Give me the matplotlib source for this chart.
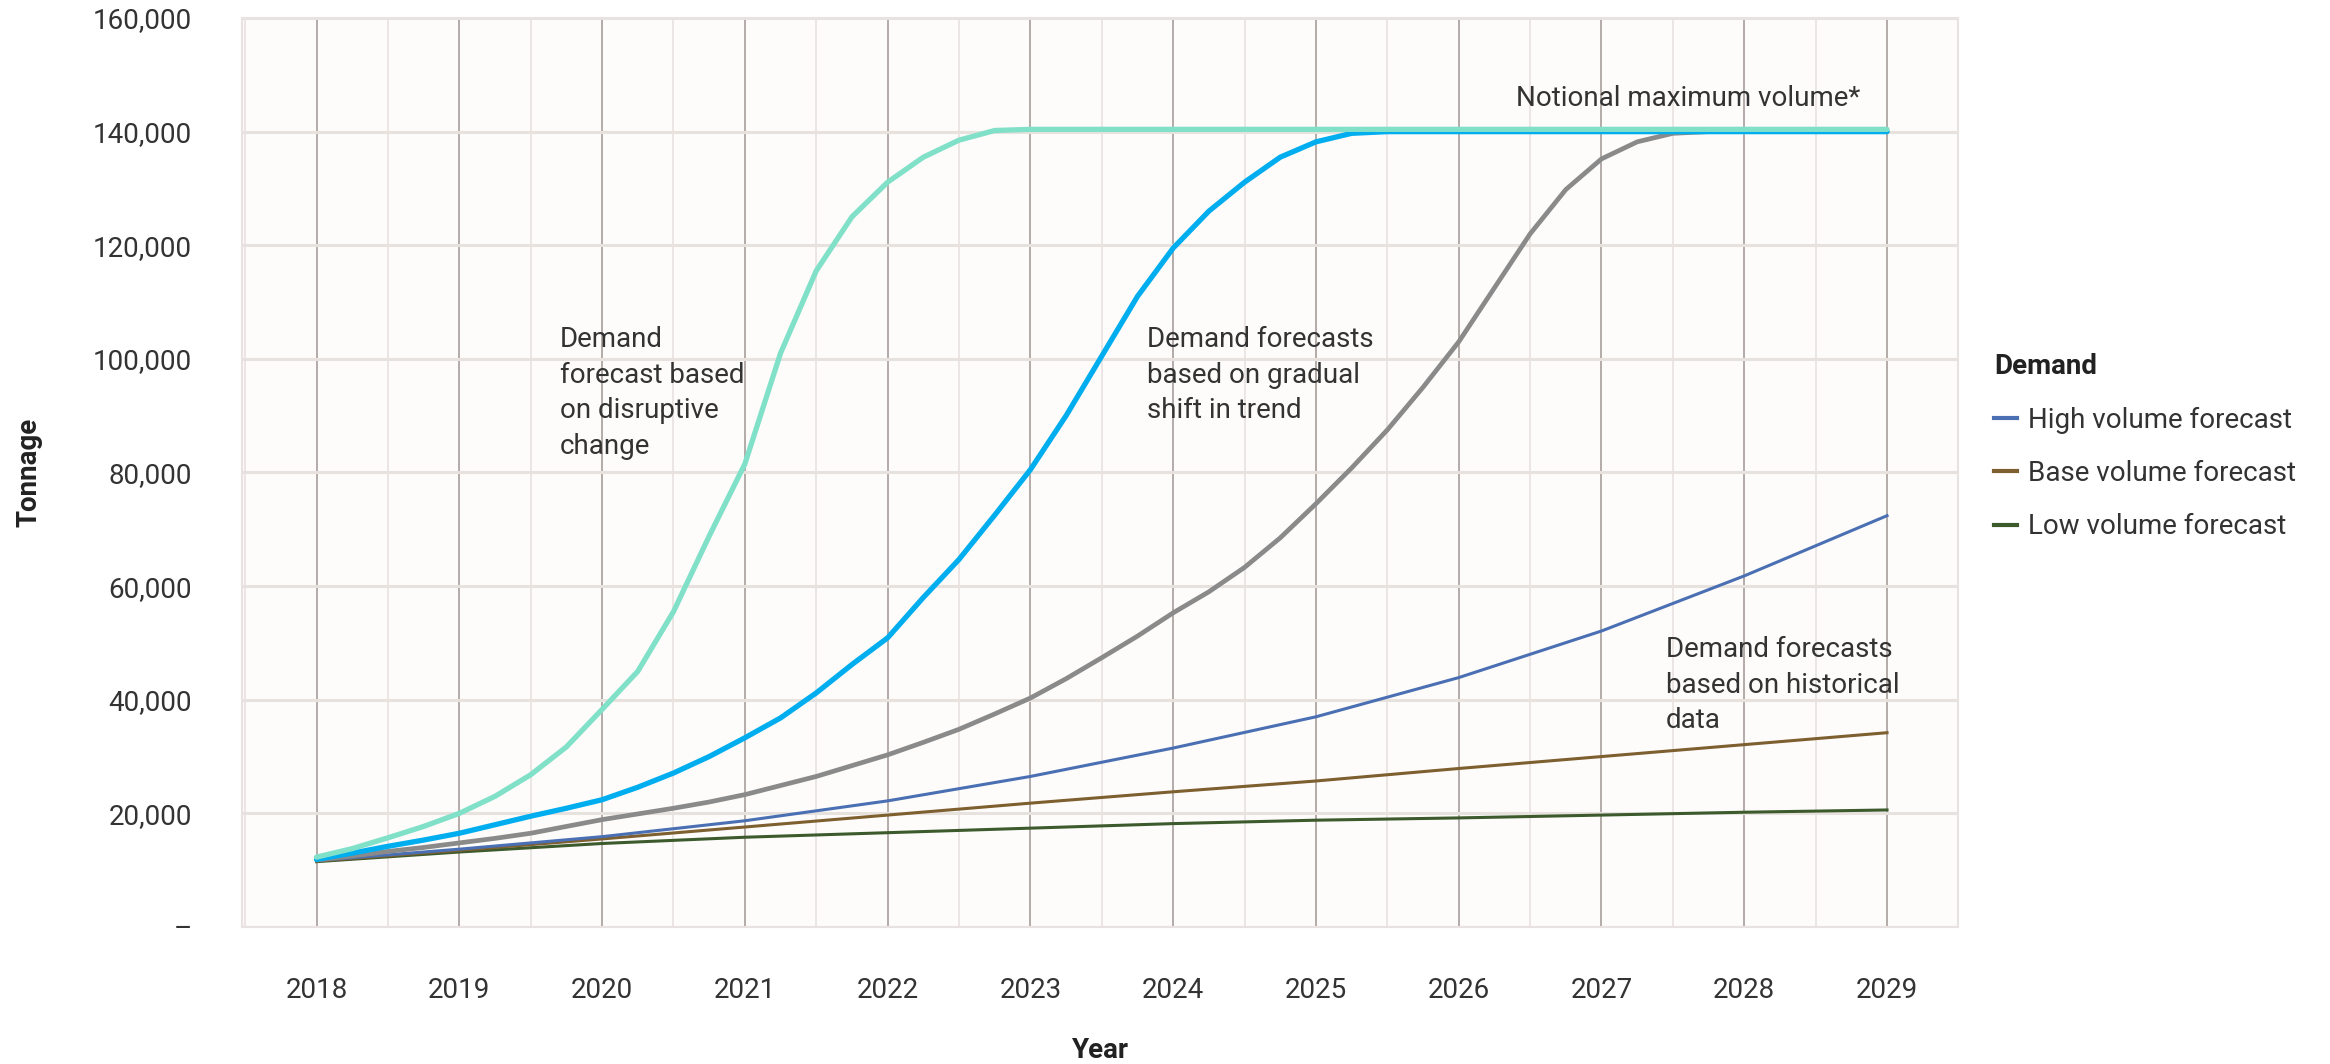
import numpy as np
import matplotlib
matplotlib.use("Agg")
import matplotlib.pyplot as plt
from matplotlib.ticker import FuncFormatter, MultipleLocator

plt.rcParams['font.family'] = ['Roboto', 'DejaVu Sans']

# ---- data ----
years = list(range(2018, 2030))

# S-curve scenarios, quarterly readings then flat at the notional maximum
disruptive_x = list(np.arange(2018, 2023.01, 0.25)) + [2029]
disruptive = [12300, 13800, 15700, 17700, 20000, 23000, 26800, 31700, 38300,
              45000, 55500, 68800, 81500, 101000, 115500, 125000, 131100,
              135500, 138500, 140200, 140400, 140400]

gradual_x = list(np.arange(2018, 2025.51, 0.25)) + [2029]
gradual = [11900, 13000, 14200, 15300, 16500, 18000, 19500, 20900, 22400,
           24600, 27100, 30000, 33300, 36800, 41200, 46200, 50900, 58000,
           64700, 72500, 80500, 90000, 100500, 111000, 119500, 126000,
           131100, 135500, 138200, 139700, 140000, 140000]

slow_x = list(np.arange(2018, 2028.01, 0.25)) + [2029]
slow = [11800, 12500, 13300, 14000, 14800, 15600, 16500, 17700, 18900,
        19900, 20900, 22000, 23300, 24900, 26500, 28400, 30300, 32500,
        34800, 37500, 40300, 43700, 47400, 51200, 55300, 59000, 63300,
        68500, 74500, 80800, 87500, 95000, 103000, 112500, 122000, 129800,
        135200, 138200, 139700, 140000, 140000, 140000]

# historical-data forecasts, yearly
high = [11700, 13700, 15900, 18700, 22200, 26500, 31500, 37000, 43900, 52100, 61800, 72400]
base = [11600, 13500, 15500, 17600, 19700, 21800, 23800, 25700, 27900, 30000, 32100, 34200]
low = [11500, 13200, 14700, 15800, 16600, 17400, 18200, 18800, 19200, 19700, 20200, 20600]

legend_labels = ['High volume forecast', 'Base volume forecast', 'Low volume forecast']

fig = plt.figure(figsize=(23.3, 10.64), dpi=100)
ax = fig.add_axes([242 / 2330, 1 - 927 / 1064, (1958 - 242) / 2330, (927 - 18) / 1064])
ax.set_facecolor('#fdfcfb')

# grid
ax.set_xlim(2017.478, 2029.497)
ax.set_ylim(0, 160000)
ax.set_xticks(years)
ax.xaxis.set_minor_locator(MultipleLocator(0.5))
ax.yaxis.set_major_locator(MultipleLocator(20000))
ax.grid(which='major', axis='x', color='#b3aba8', lw=1.4, zorder=0)
ax.grid(which='minor', axis='x', color='#ebe5e3', lw=1.4, zorder=0)
ax.grid(which='major', axis='y', color='#e8e2df', lw=2.2, zorder=0)
ax.set_axisbelow(True)
for s in ax.spines.values():
    s.set_color('#e8e3e0')
    s.set_linewidth(1.5)

ax.tick_params(which='both', length=0)
ax.tick_params(axis='x', pad=36, labelsize=20, labelcolor='#333333')
ax.tick_params(axis='y', pad=36, labelsize=20, labelcolor='#333333')
ax.yaxis.set_major_formatter(FuncFormatter(lambda v, p: '–' if v == 0 else f'{v:,.0f}'))

# lines
h_low, = ax.plot(years, low, color='#3c5a2b', lw=2.2, label=legend_labels[2], zorder=3)
h_base, = ax.plot(years, base, color='#7e5f30', lw=2.2, label=legend_labels[1], zorder=3)
h_high, = ax.plot(years, high, color='#4a6fb3', lw=2.2, label=legend_labels[0], zorder=3)
ax.plot(slow_x, slow, color='#8a8a8a', lw=3.4, solid_capstyle='round', zorder=4)
ax.plot(gradual_x, gradual, color='#00aeef', lw=3.8, solid_capstyle='round', zorder=5)
ax.plot(disruptive_x, disruptive, color='#80e0c8', lw=3.8, solid_capstyle='round', zorder=6)

# annotations
txt = dict(fontsize=20, color='#333333', ha='left', va='top', linespacing=1.4, zorder=7)
ax.text(2019.705, 105700, 'Demand\nforecast based\non disruptive\nchange', **txt)
ax.text(2023.82, 105700, 'Demand forecasts\nbased on gradual\nshift in trend', **txt)
ax.text(2026.40, 148200, 'Notional maximum volume*', **txt)
ax.text(2027.45, 51200, 'Demand forecasts\nbased on historical\ndata', **txt)

ax.set_xlabel('Year', fontsize=20, fontweight='bold', color='#222222', labelpad=24)
ax.set_ylabel('Tonnage', fontsize=20, fontweight='bold', color='#222222', labelpad=36)

leg = fig.legend(handles=[h_high, h_base, h_low], labels=legend_labels,
                 title='Demand', loc='upper left', bbox_to_anchor=(0.856, 0.668),
                 frameon=False, fontsize=20, title_fontsize=20, alignment='left',
                 handlelength=0.8, handletextpad=0.4, labelspacing=0.95,
                 borderpad=0, borderaxespad=0)
leg.get_title().set_fontweight('bold')
leg.get_title().set_color('#222222')
for t in leg.get_texts():
    t.set_color('#333333')
for l in leg.get_lines():
    l.set_linewidth(3)

fig.savefig('out.png', dpi=100)
